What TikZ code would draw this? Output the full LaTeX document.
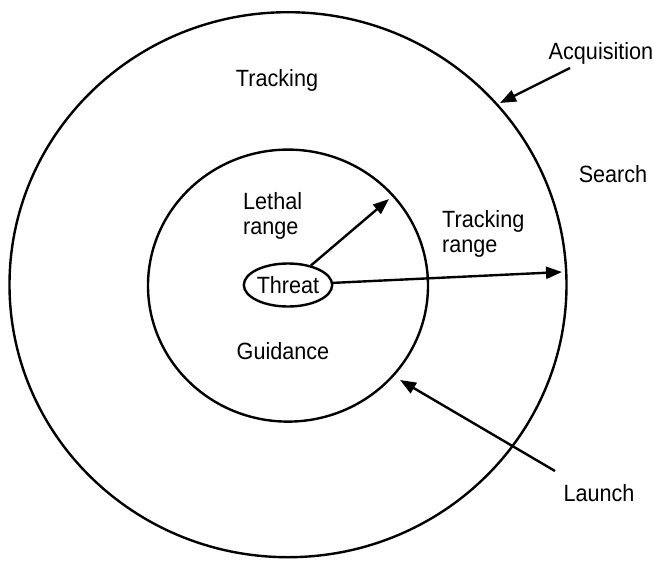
\documentclass[tikz,border=0pt]{standalone}
\usepackage{fontspec}
\setmainfont[FakeStretch=0.92]{Liberation Sans}
\usetikzlibrary{shapes.geometric, arrows.meta}

\tikzset{
  ring/.style={draw, ellipse, line width=2.4pt, inner sep=0pt},
  lbl/.style={font=\fontsize{23.5}{25}\selectfont, inner sep=0pt},
  ray/.style={line width=2.4pt, -{Triangle[length=16pt,width=12pt]}}
}

\begin{document}
\begin{tikzpicture}[x=1pt, y=-1pt]
        \useasboundingbox (0,0) rectangle (653,565);

        % Draw the two range circles
        \node[ring, minimum width=557pt, minimum height=545pt] (outer) at (288, 284.7) {};
        \node[ring, minimum width=280pt, minimum height=272pt] (inner) at (288, 285.6) {};

        % Threat in the middle
        \node[ring, lbl, minimum width=80pt, minimum height=43pt] (threat) at (288, 285) {Threat};

        % Arrow end points
        \coordinate (lethaltip) at (389, 199);   % on inner circle
        \coordinate (tracktip)  at (562, 272);   % on outer circle
        \coordinate (acqtail)   at (570, 68);
        \coordinate (acqtip)    at (500, 103);
        \coordinate (lnchtail)  at (555, 471);
        \coordinate (lnchtip)   at (400, 380);

        % Draw arrows
        \draw[ray] (threat) -- (lethaltip);
        \draw[ray] (threat) -- (tracktip);
        \draw[ray] (acqtail) -- (acqtip);
        \draw[ray] (lnchtail) -- (lnchtip);

        % Labels
        \node[lbl] (tracking) at (277, 80) {Tracking};
        \node[lbl] (search) at (613, 174) {Search};
        \node[lbl] (acq) at (601, 53) {Acquisition};
        \node[lbl] (launch) at (599, 493) {Launch};
        \node[lbl] (guidance) at (283, 351) {Guidance};
        \node[lbl, anchor=west, align=left] (lethal) at (243, 216) {Lethal\\range};
        \node[lbl, anchor=west, align=left] (trackrange) at (442, 234) {Tracking\\range};

    \end{tikzpicture}
\end{document}
